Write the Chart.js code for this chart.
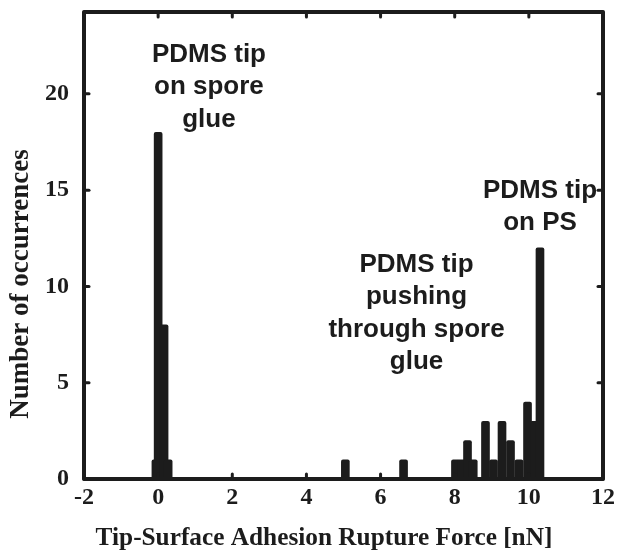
<!DOCTYPE html>
<html><head><meta charset="utf-8">
<script src="https://cdn.jsdelivr.net/npm/chart.js@4/dist/chart.umd.min.js"></script>
<style>html,body{margin:0;padding:0;background:#fff}#wrap{width:632px;height:554px;position:relative}</style>
</head><body><div id="wrap"><canvas id="c"></canvas></div>
<script>
// Histogram bins (centre of bin, nN) and counts
const binCenters = [-0.06, 0.0, 0.16, 0.27, 5.05, 6.62, 8.02, 8.18, 8.345, 8.50, 8.83, 9.047, 9.276, 9.505, 9.734, 9.964, 10.15, 10.30];
const counts     = [1,     18,  8,    1,    1,    1,    1,    1,    2,     1,    3,    1,     3,     2,     1,     4,     3,     12];
const xTicks = [-2, 0, 2, 4, 6, 8, 10, 12];
const yTicks = [0, 5, 10, 15, 20];
const noteLeft   = ["PDMS tip", "on spore", "glue"];
const noteMiddle = ["PDMS tip", "pushing", "through spore", "glue"];
const noteRight  = ["PDMS tip", "on PS"];
const xTitle = "Tip-Surface Adhesion Rupture Force [nN]";
const yTitle = "Number of occurrences";

const INK = '#1c1c1c';
const notes = [
  {lines: noteLeft,   x: 1.37, y: 21.66},
  {lines: noteMiddle, x: 6.97, y: 10.75},
  {lines: noteRight,  x: 10.30, y: 14.6}
];

const framePlugin = {
  id: 'frame',
  afterDraw(chart) {
    const {ctx, chartArea: a, scales: {x, y}} = chart;
    ctx.save();
    ctx.strokeStyle = INK;
    ctx.lineCap = 'round';
    // inward tick marks
    ctx.lineWidth = 3;
    const tl = 5;
    xTicks.forEach(v => {
      const px = x.getPixelForValue(v);
      ctx.beginPath(); ctx.moveTo(px, a.bottom); ctx.lineTo(px, a.bottom - tl); ctx.stroke();
      ctx.beginPath(); ctx.moveTo(px, a.top); ctx.lineTo(px, a.top + tl); ctx.stroke();
    });
    yTicks.forEach(v => {
      const py = y.getPixelForValue(v);
      ctx.beginPath(); ctx.moveTo(a.left, py); ctx.lineTo(a.left + tl, py); ctx.stroke();
      ctx.beginPath(); ctx.moveTo(a.right, py); ctx.lineTo(a.right - tl, py); ctx.stroke();
    });
    // frame
    ctx.lineWidth = 4;
    ctx.lineCap = 'butt';
    ctx.lineJoin = 'round';
    ctx.strokeRect(a.left, a.top, a.right - a.left, a.bottom - a.top);
    // annotations
    ctx.fillStyle = INK;
    ctx.font = 'bold 26px "Liberation Sans", Arial, sans-serif';
    ctx.textAlign = 'center';
    ctx.textBaseline = 'alphabetic';
    notes.forEach(n => {
      const cx = x.getPixelForValue(n.x);
      const by = y.getPixelForValue(n.y);
      n.lines.forEach((t, i) => ctx.fillText(t, cx, by + i * 32.5));
    });
    // axis titles
    ctx.textBaseline = 'middle';
    ctx.font = 'bold 25.3px "Liberation Serif", "Times New Roman", serif';
    ctx.fillText(xTitle, 324, 538);
    ctx.font = 'bold 27px "Liberation Serif", "Times New Roman", serif';
    ctx.translate(21, 284);
    ctx.rotate(-Math.PI / 2);
    ctx.fillText(yTitle, 0, 0);
    ctx.restore();
  }
};

new Chart(document.getElementById('c'), {
  type: 'bar',
  data: {
    datasets: [{
      data: binCenters.map((b, i) => ({x: b, y: counts[i]})),
      backgroundColor: INK,
      borderWidth: 0,
      barThickness: 8,
      borderRadius: 2
    }]
  },
  options: {
    responsive: true,
    maintainAspectRatio: false,
    animation: false,
    devicePixelRatio: 1,
    layout: {padding: {top: 12, right: 29, left: 0, bottom: 0}},
    plugins: {legend: {display: false}, tooltip: {enabled: false}},
    scales: {
      x: {
        type: 'linear',
        min: -2, max: 12,
        offset: false,
        grid: {display: false, drawTicks: false},
        border: {display: false},
        afterBuildTicks: s => { s.ticks = xTicks.map(v => ({value: v})); },
        afterFit: s => { s.height = 75; s.paddingLeft = 0; s.paddingRight = 0; },
        ticks: {
          color: INK, padding: 4, maxRotation: 0, autoSkip: false,
          font: {family: '"Liberation Serif", "Times New Roman", serif', size: 24, weight: 'bold'}
        }
      },
      y: {
        type: 'linear',
        min: 0, max: 24.25,
        grid: {display: false, drawTicks: false},
        border: {display: false},
        afterBuildTicks: s => { s.ticks = yTicks.map(v => ({value: v})); },
        afterFit: s => { s.width = 84; s.paddingTop = 0; s.paddingBottom = 0; },
        ticks: {
          color: INK, padding: 15,
          font: {family: '"Liberation Serif", "Times New Roman", serif', size: 24, weight: 'bold'}
        }
      }
    }
  },
  plugins: [framePlugin]
});
</script>
</body></html>
